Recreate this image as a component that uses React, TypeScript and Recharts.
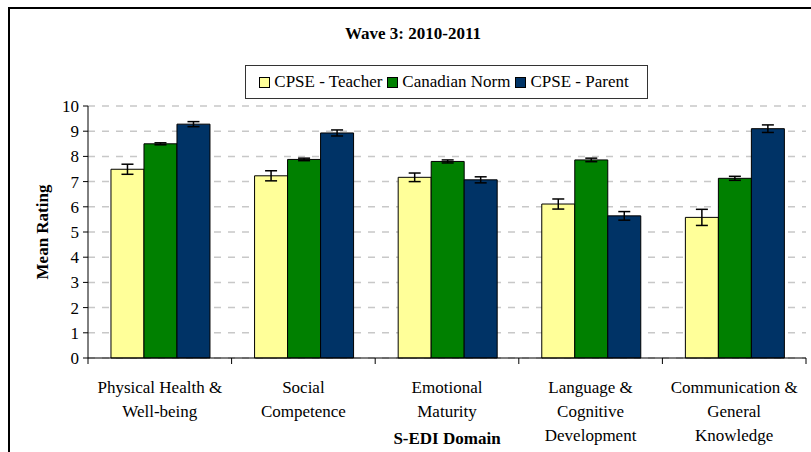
import React from "react";
import { BarChart, Bar, XAxis, YAxis, CartesianGrid, ErrorBar } from "recharts";

const categories = [
  "Physical Health &\nWell-being",
  "Social\nCompetence",
  "Emotional\nMaturity",
  "Language &\nCognitive\nDevelopment",
  "Communication &\nGeneral\nKnowledge",
];
const teacher = [7.49, 7.23, 7.17, 6.11, 5.58];
const teacherErr = [0.2, 0.2, 0.17, 0.2, 0.32];
const norm = [8.5, 7.88, 7.8, 7.86, 7.13];
const normErr = [0.04, 0.05, 0.06, 0.07, 0.08];
const parent = [9.28, 8.93, 7.07, 5.64, 9.1];
const parentErr = [0.1, 0.12, 0.12, 0.17, 0.15];
const yTicks = [0, 1, 2, 3, 4, 5, 6, 7, 8, 9, 10];

const series = [
  { key: "teacher", name: "CPSE - Teacher", color: "#FFFF99" },
  { key: "norm", name: "Canadian Norm", color: "#008000" },
  { key: "parent", name: "CPSE - Parent", color: "#003366" },
];

const data = categories.map((c, i) => ({
  name: c,
  teacher: teacher[i],
  teacherErr: teacherErr[i],
  norm: norm[i],
  normErr: normErr[i],
  parent: parent[i],
  parentErr: parentErr[i],
}));

const FONT = "Liberation Serif, Tinos, DejaVu Serif, serif";
const W = 811;
const H = 452;
const margin = { top: 106, right: 5, bottom: 4, left: 18 };
const yAxisW = 70;
const bandHalf = (W - margin.left - yAxisW - margin.right) / categories.length / 2;

function XTick(props: any) {
  const { x, y, payload, index } = props;
  const lines = String(payload.value).split("\n");
  return (
    <g>
      <line x1={x - bandHalf} x2={x - bandHalf} y1={y} y2={y + 6} stroke="#000" />
      {index === categories.length - 1 && (
        <line x1={x + bandHalf} x2={x + bandHalf} y1={y} y2={y + 6} stroke="#000" />
      )}
      <text x={x} y={y + 35} textAnchor="middle" fontSize={17} style={{ fontFamily: FONT }} fill="#000">
        {lines.map((l, i) => (
          <tspan key={i} x={x} dy={i === 0 ? 0 : 24}>
            {l}
          </tspan>
        ))}
      </text>
    </g>
  );
}

export default function App() {
  return (
    <div style={{ position: "fixed", left: 0, top: 0, width: W, height: H, background: "#fff", fontFamily: FONT }}>
      <div
        style={{
          position: "absolute",
          left: 8,
          top: 7,
          width: W,
          height: H,
          borderLeft: "2px solid #000",
          borderTop: "2px solid #000",
        }}
      />
      <div
        style={{
          position: "absolute",
          top: 24,
          left: 0,
          width: 826,
          textAlign: "center",
          fontWeight: "bold",
          fontSize: 17,
        }}
      >
        Wave 3: 2010-2011
      </div>
      <div
        style={{
          position: "absolute",
          left: 245,
          top: 65,
          width: 401,
          height: 32,
          border: "1px solid #333",
          display: "flex",
          alignItems: "center",
          justifyContent: "center",
          fontSize: 17,
          whiteSpace: "nowrap",
        }}
      >
        {series.map((s) => (
          <span key={s.key} style={{ display: "inline-flex", alignItems: "center", marginRight: 5 }}>
            <span
              style={{
                display: "inline-block",
                width: 9,
                height: 9,
                background: s.color,
                border: "1px solid #000",
                marginRight: 4,
              }}
            />
            {s.name}
          </span>
        ))}
      </div>
      <div style={{ position: "absolute", left: 0, top: 0, fontFamily: FONT }}>
        <BarChart width={W} height={H} data={data} margin={margin} barCategoryGap="16%" barGap={0} style={{ fontFamily: FONT }}>
          <CartesianGrid vertical={false} stroke="#c8c8c8" strokeWidth={1.5} strokeDasharray="7 7" />
          <XAxis
            dataKey="name"
            height={90}
            axisLine={{ stroke: "#000" }}
            tickLine={false}
            tickSize={0}
            tickMargin={0}
            tick={<XTick />}
            interval={0}
            label={{
              value: "S-EDI Domain",
              position: "insideBottom",
              offset: 4,
              style: { fontWeight: "bold", fontSize: 17, fontFamily: FONT, fill: "#000" },
            }}
          />
          <YAxis
            width={yAxisW}
            domain={[0, 10]}
            ticks={yTicks}
            interval={0}
            axisLine={{ stroke: "#000" }}
            tickLine={{ stroke: "#000" }}
            tickSize={5}
            tickMargin={4}
            tick={{ fontSize: 17, fontFamily: FONT, fill: "#000" }}
            label={{
              value: "Mean Rating",
              angle: -90,
              position: "insideLeft",
              offset: 24,
              style: { fontWeight: "bold", fontSize: 17, fontFamily: FONT, fill: "#000", textAnchor: "middle" },
            }}
          />
          {series.map((s) => (
            <Bar key={s.key} dataKey={s.key} name={s.name} fill={s.color} stroke="#000" strokeWidth={1} isAnimationActive={false}>
              <ErrorBar dataKey={s.key + "Err"} width={6} stroke="#000" strokeWidth={1.5} direction="y" />
            </Bar>
          ))}
        </BarChart>
      </div>
    </div>
  );
}
